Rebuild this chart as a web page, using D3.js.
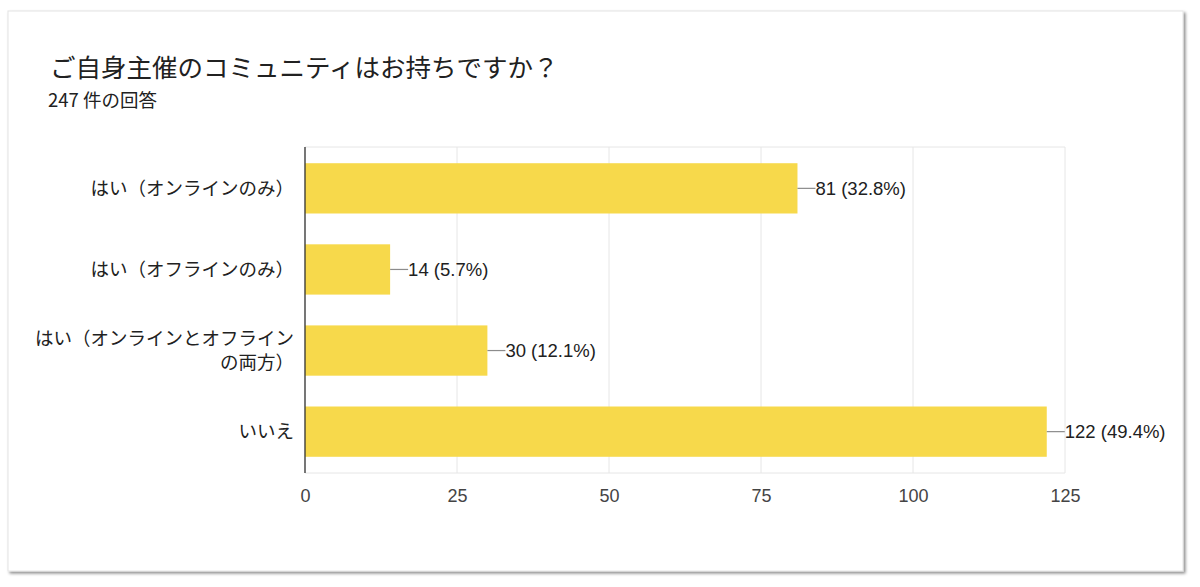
<!DOCTYPE html>
<html>
<head>
<meta charset="utf-8">
<script src="https://cdn.jsdelivr.net/npm/d3@7"></script>
<style>
  html, body { margin: 0; padding: 0; background: #ffffff; }
  svg { display: block; }
</style>
</head>
<body>
<div id="chart"></div>
<script>
// data
var categories = [
    'はい（オンラインのみ）',
    'はい（オフラインのみ）',
    'はい（オンラインとオフラインの両方）',
    'いいえ'
];
var categoryLines = [
    ['はい（オンラインのみ）'],
    ['はい（オフラインのみ）'],
    ['はい（オンラインとオフライン', 'の両方）'],
    ['いいえ']
];
var counts = [81, 14, 30, 122];
var percents = ['32.8%', '5.7%', '12.1%', '49.4%'];
var xTicks = [0, 25, 50, 75, 100, 125];
var titleText = 'ご自身主催のコミュニティはお持ちですか？';
var subtitleText = '247 件の回答';

(function() {
    var width = 1200,
        height = 587,
        jpFont = '"Noto Sans CJK JP", "Noto Sans", sans-serif',
        numFont = '"Liberation Sans", Arial, sans-serif',
        barColor = '#f7d94b',
        textColor = '#212121';

    var svg = d3.select('#chart').append('svg')
        .attr('width', width)
        .attr('height', height);

    var defs = svg.append('defs');
    var shadow = defs.append('filter')
        .attr('id', 'shadow')
        .attr('x', '-5%').attr('y', '-5%')
        .attr('width', '110%').attr('height', '110%');
    shadow.append('feDropShadow')
        .attr('dx', 2).attr('dy', 2)
        .attr('stdDeviation', 1.6)
        .attr('flood-color', '#000')
        .attr('flood-opacity', 0.45);

    // card
    svg.append('rect')
        .attr('x', 8).attr('y', 11)
        .attr('width', 1175).attr('height', 560)
        .attr('fill', '#ffffff')
        .attr('stroke', '#e4e4e4')
        .attr('stroke-width', 1)
        .attr('filter', 'url(#shadow)');

    svg.append('text')
        .attr('x', 50).attr('y', 77)
        .attr('font-family', jpFont)
        .attr('font-size', 25.5)
        .attr('fill', textColor)
        .text(titleText);

    svg.append('text')
        .attr('x', 48).attr('y', 107)
        .attr('font-family', jpFont)
        .attr('font-size', 18.5)
        .attr('fill', textColor)
        .text(subtitleText);

    var margin = { left: 305, right: 1065, top: 147, bottom: 473 };

    var x = d3.scaleLinear()
        .domain([0, 125])
        .range([margin.left, margin.right]);

    var y = d3.scaleBand()
        .domain(categories)
        .range([margin.top, margin.bottom])
        .paddingInner(0.38)
        .paddingOuter(0.2);

    // grid
    var grid = svg.append('g');
    grid.selectAll('line.v')
        .data(xTicks)
        .enter()
            .append('line')
            .attr('class', 'v')
            .attr('x1', function(d) { return x(d); })
            .attr('x2', function(d) { return x(d); })
            .attr('y1', margin.top)
            .attr('y2', margin.bottom)
            .attr('stroke', '#e6e6e6')
            .attr('stroke-width', 1);
    grid.selectAll('line.h')
        .data([margin.top, margin.bottom])
        .enter()
            .append('line')
            .attr('class', 'h')
            .attr('x1', margin.left)
            .attr('x2', margin.right)
            .attr('y1', function(d) { return d; })
            .attr('y2', function(d) { return d; })
            .attr('stroke', '#e6e6e6')
            .attr('stroke-width', 1);

    // bars
    var groups = svg.append('g').selectAll('g')
        .data(categories)
        .enter()
            .append('g');

    groups.append('rect')
        .attr('x', x(0))
        .attr('y', function(d) { return y(d); })
        .attr('width', function(d, i) { return x(counts[i]) - x(0); })
        .attr('height', y.bandwidth())
        .attr('fill', barColor);

    // leader line + value labels
    groups.append('line')
        .attr('x1', function(d, i) { return x(counts[i]); })
        .attr('x2', function(d, i) { return x(counts[i]) + 18; })
        .attr('y1', function(d) { return y(d) + y.bandwidth() / 2; })
        .attr('y2', function(d) { return y(d) + y.bandwidth() / 2; })
        .attr('stroke', '#8c8c8c')
        .attr('stroke-width', 1.2);

    groups.append('text')
        .attr('x', function(d, i) { return x(counts[i]) + 18; })
        .attr('y', function(d) { return y(d) + y.bandwidth() / 2; })
        .attr('dy', '0.36em')
        .attr('font-family', numFont)
        .attr('font-size', 18.5)
        .attr('fill', textColor)
        .text(function(d, i) { return counts[i] + ' (' + percents[i] + ')'; });

    // category labels
    groups.append('text')
        .attr('text-anchor', 'end')
        .attr('font-family', jpFont)
        .attr('font-size', 18.5)
        .attr('fill', textColor)
        .each(function(d, i) {
            var lines = categoryLines[i],
                cy = y(d) + y.bandwidth() / 2,
                lineH = 23.5;
            d3.select(this).selectAll('tspan')
                .data(lines)
                .enter()
                    .append('tspan')
                    .attr('x', 294)
                    .attr('y', function(l, j) {
                        return cy + (j - (lines.length - 1) / 2) * lineH;
                    })
                    .attr('dy', '0.36em')
                    .text(function(l) { return l; });
        });

    // axis line
    svg.append('line')
        .attr('x1', x(0)).attr('x2', x(0))
        .attr('y1', margin.top).attr('y2', margin.bottom)
        .attr('stroke', '#333333')
        .attr('stroke-width', 1.3);

    // x tick labels
    var xAxis = d3.axisBottom(x)
        .tickValues(xTicks)
        .tickSize(0)
        .tickPadding(16);

    var axisG = svg.append('g')
        .attr('transform', 'translate(0,' + margin.bottom + ')')
        .call(xAxis);
    axisG.select('.domain').remove();
    axisG.selectAll('text')
        .attr('font-family', numFont)
        .attr('font-size', 18)
        .attr('fill', '#444444');
}());
</script>
</body>
</html>
